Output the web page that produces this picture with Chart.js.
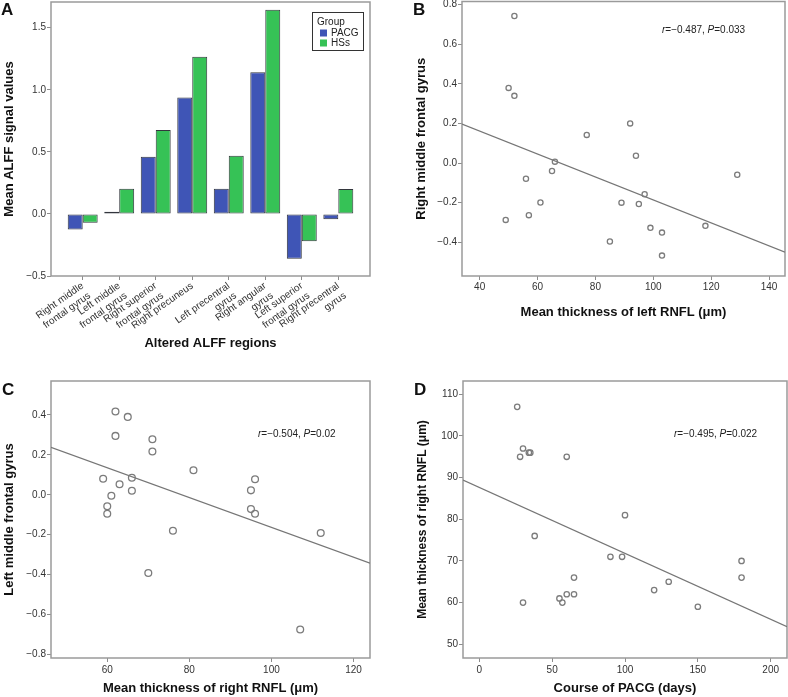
<!DOCTYPE html>
<html>
<head>
<meta charset="utf-8">
<script src="https://cdn.jsdelivr.net/npm/chart.js@4.4.1/dist/chart.umd.min.js"></script>
<style>
  html, body { margin: 0; padding: 0; background: #fff; }
  #wrap { position: relative; width: 788px; height: 697px; }
  #wrap canvas { position: absolute; left: 0; top: 0; }
</style>
</head>
<body>
<div id="wrap">
  <canvas id="chartA" width="788" height="697"></canvas>
  <canvas id="chartB" width="788" height="697"></canvas>
  <canvas id="chartC" width="788" height="697"></canvas>
  <canvas id="chartD" width="788" height="697"></canvas>
</div>
<script>
// panel A - mean ALFF per region
const regionLabels = [
    ['Right middle', 'frontal gyrus'],
    ['Left middle', 'frontal gyrus'],
    ['Right superior', 'frontal gyrus'],
    ['Right precuneus'],
    ['Left precentral', 'gyrus'],
    ['Right angular', 'gyrus'],
    ['Left superior', 'frontal gyrus'],
    ['Right precentral', 'gyrus']
];
const pacgValues = [-0.125, 0.018, 0.46, 0.937, 0.203, 1.141, -0.362, -0.043];
const hssValues = [-0.072, 0.203, 0.675, 1.267, 0.469, 1.645, -0.22, 0.2];

// panel B - left RNFL vs right middle frontal gyrus
const leftRnfl = [52, 50, 52, 77, 92, 94, 66, 65, 56, 129, 97, 61, 89, 95, 49, 57, 118, 99, 103, 85, 103];
const rightMfg = [0.742, 0.379, 0.339, 0.142, 0.2, 0.037, 0.007, -0.04, -0.079, -0.059, -0.157, -0.199, -0.2, -0.207, -0.287, -0.263, -0.317, -0.327, -0.351, -0.396, -0.467];
const fitBx = [33.9, 145.5];
const fitBy = [0.196, -0.45];

// panel C - right RNFL vs left middle frontal gyrus
const rightRnfl = [62, 65, 62, 71, 71, 81, 59, 66, 63, 66, 61, 60, 60, 96, 95, 95, 96, 76, 112, 70, 107];
const leftMfg = [0.417, 0.39, 0.295, 0.278, 0.217, 0.123, 0.08, 0.085, 0.053, 0.02, -0.005, -0.058, -0.095, 0.078, 0.022, -0.072, -0.095, -0.18, -0.192, -0.392, -0.675];
const fitCx = [46.3, 124];
const fitCy = [0.238, -0.343];

// panel D - course of PACG vs right RNFL
const courseDays = [26, 30, 28, 34, 35, 60, 100, 38, 90, 98, 180, 65, 180, 130, 60, 65, 120, 55, 57, 30, 150];
const rightRnflD = [107, 97, 95, 96, 96, 95, 81, 76, 71, 71, 70, 66, 66, 65, 62, 62, 63, 61, 60, 60, 59];
const fitDx = [-11.2, 211.2];
const fitDy = [89.4, 54.2];

const stats = {
    B: { r: '\u22120.487', p: '0.033' },
    C: { r: '\u22120.504', p: '0.02' },
    D: { r: '\u22120.495', p: '0.022' }
};

const FONT = '"Liberation Sans", Arial, Helvetica, sans-serif';
Chart.defaults.font.family = FONT;
Chart.defaults.font.size = 10;
Chart.defaults.color = '#333';
Chart.defaults.animation = false;

const toPts = (xs, ys) => xs.map((x, i) => ({ x: x, y: ys[i] }));
const oneDec = (v) => v.toFixed(1).replace('-', '\u2212');

// grey frame round the plot area (SPSS style)
const plotFrame = {
    id: 'plotFrame',
    beforeDatasetsDraw(chart) {
        const a = chart.chartArea;
        const ctx = chart.ctx;
        ctx.save();
        ctx.strokeStyle = '#9a9a9a';
        ctx.lineWidth = 1.5;
        ctx.strokeRect(a.left, a.top, a.right - a.left, a.bottom - a.top);
        ctx.restore();
    }
};

// panel letter, r/P text and the boxed legend
const panelDecor = {
    id: 'panelDecor',
    afterDraw(chart, args, opts) {
        const ctx = chart.ctx;
        ctx.save();
        ctx.fillStyle = '#111';
        ctx.textBaseline = 'alphabetic';
        ctx.font = 'bold 17px ' + FONT;
        ctx.fillText(opts.letter, opts.letterX, opts.letterY);

        if (opts.stat) {
            let x = opts.statX;
            const y = opts.statY;
            ctx.fillStyle = '#222';
            ctx.textBaseline = 'middle';
            const parts = [['r', true], ['=' + opts.stat.r + ', ', false], ['P', true], ['=' + opts.stat.p, false]];
            parts.forEach(([t, it]) => {
                ctx.font = (it ? 'italic ' : '') + '10px ' + FONT;
                ctx.fillText(t, x, y);
                x += ctx.measureText(t).width;
            });
        }

        if (opts.legend) {
            const l = opts.legend;
            ctx.strokeStyle = '#333';
            ctx.lineWidth = 1;
            ctx.strokeRect(l.x + 0.5, l.y + 0.5, l.w, l.h);
            ctx.fillStyle = '#222';
            ctx.textBaseline = 'middle';
            ctx.font = '10px ' + FONT;
            ctx.fillText(l.title, l.x + 5, l.y + 10);
            chart.data.datasets.forEach((ds, i) => {
                const cy = l.y + 21 + i * 10;
                ctx.fillStyle = ds.backgroundColor;
                ctx.fillRect(l.x + 8, cy - 3.5, 7, 7);
                ctx.fillStyle = '#222';
                ctx.fillText(ds.label, l.x + 19, cy);
            });
        }
        ctx.restore();
    }
};

function axis(o) {
    const horiz = o.horiz;
    return {
        type: 'linear',
        min: o.min,
        max: o.max,
        offset: false,
        grid: { drawOnChartArea: false, drawTicks: true, tickLength: 4, color: '#8c8c8c', offset: false },
        border: { display: false },
        ticks: {
            stepSize: o.step,
            includeBounds: false,
            autoSkip: false,
            padding: o.tickPad == null ? 1 : o.tickPad,
            color: '#333',
            font: { size: 10 },
            maxRotation: o.rot || 0,
            minRotation: o.rot || 0,
            callback: o.fmt || ((v) => v)
        },
        title: {
            display: true,
            text: o.title,
            color: '#111',
            font: { size: o.titleSize || 13, weight: 'bold' },
            padding: horiz ? { top: 0, bottom: o.titlePad } : { top: o.titlePad, bottom: 0 }
        },
        afterFit: (s) => {
            if (horiz) s.height = o.size; else s.width = o.size;
            s.paddingTop = 0; s.paddingBottom = 0; s.paddingLeft = 0; s.paddingRight = 0;
        }
    };
}

// ---- A: grouped bars ----
new Chart(document.getElementById('chartA'), {
    type: 'bar',
    data: {
        datasets: [
            {
                label: 'PACG',
                data: toPts([1, 2, 3, 4, 5, 6, 7, 8], pacgValues),
                backgroundColor: '#3f55b6',
                borderColor: '#33363d',
                borderWidth: 1,
                borderSkipped: false,
                categoryPercentage: 0.82,
                barPercentage: 1
            },
            {
                label: 'HSs',
                data: toPts([1, 2, 3, 4, 5, 6, 7, 8], hssValues),
                backgroundColor: '#36c256',
                borderColor: '#33363d',
                borderWidth: 1,
                borderSkipped: false,
                categoryPercentage: 0.82,
                barPercentage: 1
            }
        ]
    },
    options: {
        responsive: false,
        events: [],
        layout: { autoPadding: false, padding: { left: 0, top: 2, right: 418, bottom: 346 } },
        scales: {
            x: axis({ horiz: true, min: 0.132, max: 8.868, step: 1, size: 75, rot: 35, tickPad: 0,
                title: 'Altered ALFF regions', titlePad: 0,
                fmt: (v) => regionLabels[Math.round(v) - 1] || '' }),
            y: axis({ min: -0.5, max: 1.707, step: 0.5, size: 51, fmt: oneDec,
                title: 'Mean ALFF signal values', titlePad: 2 })
        },
        plugins: {
            legend: { display: false },
            tooltip: { enabled: false },
            panelDecor: { letter: 'A', letterX: 1, letterY: 15,
                legend: { x: 312, y: 12, w: 51, h: 38, title: 'Group' } }
        }
    },
    plugins: [plotFrame, panelDecor]
});

// ---- scatter panels ----
function scatterPanel(id, pts, fit, radius, o) {
    return new Chart(document.getElementById(id), {
        type: 'scatter',
        data: {
            datasets: [
                {
                    data: pts,
                    pointStyle: 'circle',
                    pointRadius: radius,
                    backgroundColor: 'rgba(255,255,255,0)',
                    borderColor: '#7c7c7c',
                    borderWidth: 1.3
                },
                {
                    type: 'line',
                    data: fit,
                    showLine: true,
                    borderColor: '#767676',
                    borderWidth: 1.2,
                    pointRadius: 0
                }
            ]
        },
        options: {
            responsive: false,
            events: [],
            layout: { autoPadding: false, padding: o.padding },
            scales: { x: o.x, y: o.y },
            plugins: {
                legend: { display: false },
                tooltip: { enabled: false },
                panelDecor: o.decor
            }
        },
        plugins: [plotFrame, panelDecor]
    });
}

scatterPanel('chartB', toPts(leftRnfl, rightMfg), toPts(fitBx, fitBy), 2.6, {
    padding: { left: 404, top: 1.5, right: 3, bottom: 371 },
    x: axis({ horiz: true, min: 33.9, max: 145.5, step: 20, size: 50, tickPad: 1,
        title: 'Mean thickness of left RNFL (\u03bcm)', titlePad: 6 }),
    y: axis({ min: -0.57, max: 0.815, step: 0.2, size: 58, fmt: oneDec,
        title: 'Right middle frontal gyrus', titlePad: 10 }),
    decor: { letter: 'B', letterX: 413, letterY: 15, stat: stats.B, statX: 662, statY: 30 }
});

scatterPanel('chartC', toPts(rightRnfl, leftMfg), toPts(fitCx, fitCy), 3.4, {
    padding: { left: 0, top: 381, right: 418, bottom: 0 },
    x: axis({ horiz: true, min: 46.3, max: 124, step: 20, size: 39, tickPad: 2,
        title: 'Mean thickness of right RNFL (\u03bcm)', titlePad: 1 }),
    y: axis({ min: -0.818, max: 0.57, step: 0.2, size: 51, fmt: oneDec,
        title: 'Left middle frontal gyrus', titlePad: 2 }),
    decor: { letter: 'C', letterX: 2, letterY: 395, stat: stats.C, statX: 258, statY: 434 }
});

scatterPanel('chartD', toPts(courseDays, rightRnflD), toPts(fitDx, fitDy), 2.7, {
    padding: { left: 404, top: 381, right: 1, bottom: 0 },
    x: axis({ horiz: true, min: -11.2, max: 211.2, step: 50, size: 39, tickPad: 2,
        title: 'Course of PACG (days)', titlePad: 1 }),
    y: axis({ min: 46.7, max: 113.2, step: 10, size: 59,
        title: 'Mean thickness of right RNFL (\u03bcm)', titlePad: 11, titleSize: 12 }),
    decor: { letter: 'D', letterX: 414, letterY: 395, stat: stats.D, statX: 674, statY: 434 }
});
</script>
</body>
</html>
